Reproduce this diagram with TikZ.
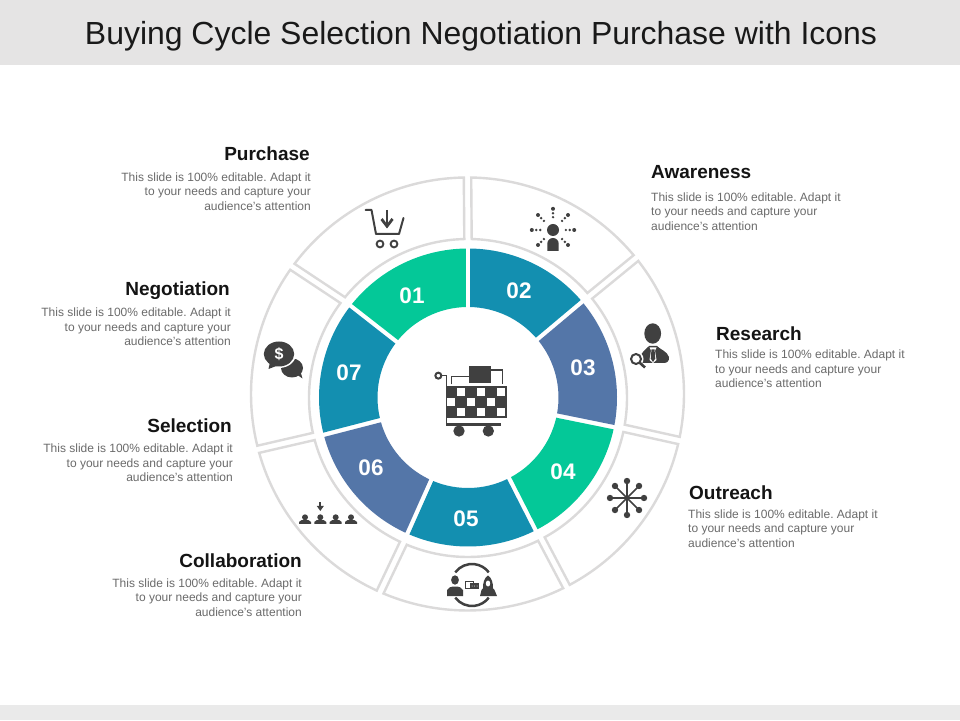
\documentclass[tikz,border=0pt]{standalone}
\usepackage{fontspec}
\setmainfont{Liberation Sans}
\frenchspacing
\definecolor{band}{HTML}{E5E4E4}
\definecolor{bandb}{HTML}{EAEAEA}
\definecolor{ringline}{HTML}{DBDADA}
\definecolor{cgreen}{HTML}{04C898}
\definecolor{cteal}{HTML}{138FB0}
\definecolor{cblue}{HTML}{5476A8}
\definecolor{icon}{HTML}{404040}
\definecolor{bodyc}{HTML}{6B6B6B}
\tikzset{
  headr/.style={anchor=east,inner sep=0pt,font=\fontsize{19}{20}\selectfont\bfseries,text=black!92},
  headl/.style={anchor=west,inner sep=0pt,font=\fontsize{19}{20}\selectfont\bfseries,text=black!92},
  bodyr/.style={anchor=east,align=right,inner sep=0pt,font=\fontsize{12}{14.3}\selectfont,text=bodyc},
  bodyl/.style={anchor=west,align=left,inner sep=0pt,font=\fontsize{12}{14.3}\selectfont,text=bodyc},
  num/.style={text=white,inner sep=0pt,font=\fontsize{22.5}{24}\selectfont\bfseries},
  icol/.style={draw=icon,fill=none,line width=2pt},
  outerseg/.style={draw=ringline,line width=2.4pt,line join=miter},
}
% inner band: #1 style, #2 a1, #3 a2
\newcommand\innersec[3]{%
  \pgfmathsetmacro\dO{asin(2.2/149)}%
  \pgfmathsetmacro\dI{asin(2.2/90.5)}%
  \pgfmathsetmacro\aA{-(#2+\dO)}%
  \pgfmathsetmacro\aB{-(#3-\dO)}%
  \pgfmathsetmacro\aC{-(#3-\dI)}%
  \pgfmathsetmacro\aD{-(#2+\dI)}%
  \path[#1,shift={(468,397.5)}] (\aA:149) arc[start angle=\aA,end angle=\aB,radius=149pt]
    -- (\aC:90.5) arc[start angle=\aC,end angle=\aD,radius=90.5pt] -- cycle;%
}
% outer band: #1 outer a1, #2 outer a2, #3 inner a1, #4 inner a2
\newcommand\outersec[4]{%
  \pgfmathsetmacro\dO{asin(3.7/216.5)}%
  \pgfmathsetmacro\dI{asin(3.7/159)}%
  \pgfmathsetmacro\aA{-(#1+\dO)}%
  \pgfmathsetmacro\aB{-(#2-\dO)}%
  \pgfmathsetmacro\aC{-(#4-\dI)}%
  \pgfmathsetmacro\aD{-(#3+\dI)}%
  \path[outerseg] ([shift={(467.5,394)}]\aA:216.5) arc[start angle=\aA,end angle=\aB,radius=216.5pt]
    -- ([shift={(468,398)}]\aC:159) arc[start angle=\aC,end angle=\aD,radius=159pt] -- cycle;%
}
\newcommand\bodytext{This slide is 100\% editable. Adapt it}
\begin{document}
\begin{tikzpicture}[x=1pt,y=1pt]
\useasboundingbox (0,0) rectangle (960,720);
\fill[white] (0,0) rectangle (960,720);
\begin{scope}[shift={(0,720)},yscale=-1]
\fill[band] (0,0) rectangle (960,65);
\fill[bandb] (0,705) rectangle (960,720);
\node[inner sep=0pt,text=black!90,font=\fontsize{31.95}{34}\selectfont] (title) at (481,36.5) {Buying Cycle Selection Negotiation Purchase with Icons};

% outer ring
\outersec{90}{144}{90}{142}
\outersec{144}{194.8}{142}{194}
\outersec{194.8}{246.2}{194}{246}
\outersec{246.2}{297.2}{246}{297.5}
\outersec{297.2}{347.6}{297.5}{349}
\outersec{347.6}{398.9}{349}{400}
\outersec{38.9}{90}{40}{90}

% inner ring
\innersec{fill=cgreen}{90}{142}
\innersec{fill=cteal}{142}{194.5}
\innersec{fill=cblue}{194.5}{246}
\innersec{fill=cteal}{246}{297}
\innersec{fill=cgreen}{297}{348.5}
\innersec{fill=cblue}{348.5}{400}
\innersec{fill=cteal}{40}{90}

\node[num] (n1) at (412,296) {01};
\node[num] (n2) at (519,291) {02};
\node[num] (n3) at (583,368) {03};
\node[num] (n4) at (563,472) {04};
\node[num] (n5) at (466,519) {05};
\node[num] (n6) at (371,468) {06};
\node[num] (n7) at (349,373) {07};

% texts
\node[headr] (h1) at (310,153.5) {Purchase};
\node[bodyr] (b1) at (311,191.5) {\bodytext\\to your needs and capture your\\audience's attention};
\node[headl] (h2) at (651,172.5) {Awareness};
\node[bodyl] (b2) at (651,211.5) {\bodytext\\to your needs and capture your\\audience's attention};
\node[headr] (h7) at (230,290.5) {Negotiation};
\node[bodyr] (b7) at (231,327) {\bodytext\\to your needs and capture your\\audience's attention};
\node[headl] (h3) at (716,333.5) {Research};
\node[bodyl] (b3) at (715,369) {\bodytext\\to your needs and capture your\\audience's attention};
\node[headr] (h6) at (232,425.5) {Selection};
\node[bodyr] (b6) at (233,463) {\bodytext\\to your needs and capture your\\audience's attention};
\node[headl] (h4) at (689,492.5) {Outreach};
\node[bodyl] (b4) at (688,528.5) {\bodytext\\to your needs and capture your\\audience's attention};
\node[headr] (h5) at (302,560.5) {Collaboration};
\node[bodyr] (b5) at (302,597.5) {\bodytext\\to your needs and capture your\\audience's attention};

% icon: shopping basket (Purchase)
\draw[icol,line join=round,line cap=round] (365.5,210) -- (371.5,210) -- (376,234) -- (399,234) -- (403.5,218);
\draw[icon,line width=1.9pt] (380,244) circle (3.4) (394,244) circle (3.4);
\draw[icon,line width=2.3pt] (387,210) -- (387,224);
\fill[icon] (380.5,220) -- (387,228.5) -- (393.5,220) -- (391.5,218) -- (387,224) -- (382.5,218) -- cycle;

% icon: speech bubbles with dollar (Negotiation)
\fill[icon] (292,368) ellipse (11 and 9.5);
\fill[icon] (296,374) -- (302.5,378.5) -- (300,370) -- cycle;
\fill[white] (279,354) ellipse (17 and 14);
\fill[icon] (279,354) ellipse (15.2 and 12.5);
\fill[icon] (270,362) -- (268.5,369) -- (279,365) -- cycle;
\node[inner sep=0pt,text=white,font=\fontsize{16}{16}\selectfont\bfseries] (dollar) at (279,354) {\$};

% icon: person with rays (Awareness)
\fill[icon] (553,230) circle (6);
\fill[icon] (547.3,251) -- (547.3,243.7) arc[start angle=180,end angle=360,radius=5.7pt] -- (558.7,251) -- cycle;
\foreach \a in {-90,-45,-135,0,180,45,135}{
  \begin{scope}[shift={(553,230)}]
    \fill[icon] (\a:21.2) circle (2);
    \fill[icon] (\a:16.8) circle (1.4);
    \fill[icon] (\a:12.8) circle (1.3);
  \end{scope}
}

% icon: businessman with magnifier (Research)
\fill[icon] (652.7,333.5) ellipse (8.4 and 10.2);
\fill[icon] (641,363) -- (640,358) .. controls (641,352) and (646,349.5) .. (649,346) -- (657,346) .. controls (660,349.5) and (667,351) .. (669,357) .. controls (669.5,361) and (667,363) .. (664,363) -- cycle;
\fill[white] (649.5,347.5) -- (656.5,347.5) -- (655,350.5) -- (656.5,360) -- (653,363) -- (649.5,360) -- (651,350.5) -- cycle;
\fill[icon] (651.5,349.5) -- (654.5,349.5) -- (655.3,358.5) -- (653,362) -- (650.7,358.5) -- cycle;
\fill[white] (636,359) circle (7.5);
\draw[icon,line width=2pt] (636,359) circle (5);
\draw[icon,line width=2.6pt] (639.8,362.8) -- (645,367.5);

% icon: network star (Outreach)
\foreach \a in {0,45,...,315}{
  \draw[icon,line width=1.6pt,shift={(627,498)}] (0,0) -- (\a:17);
  \fill[icon,shift={(627,498)}] (\a:17) circle (3.2);
}

% icon: audience
\foreach \x in {305,320.3,335.7,351}{
  \fill[icon] (\x,517.3) circle (3);
  \fill[icon] (\x-6,523.8) -- (\x-6,522) .. controls (\x-5,520.3) and (\x-3,519.8) .. (\x,519.8) .. controls (\x+3,519.8) and (\x+5,520.3) .. (\x+6,522) -- (\x+6,523.8) -- cycle;
}
\fill[icon] (319.2,502) rectangle (321.4,507);
\fill[icon] (316.8,506) -- (320.3,511) -- (323.8,506) -- cycle;

% icon: two people and chat (Collaboration 05)
\draw[icon,line width=2.5pt] (-143:21) ++(472,585) arc[start angle=-143,end angle=-37,radius=21pt];
\draw[icon,line width=2.5pt] (143:21) ++(472,585) arc[start angle=143,end angle=37,radius=21pt];
\fill[icon] (455,580) ellipse (3.9 and 4.7);
\fill[icon] (447,596) -- (447,590) .. controls (448,587.5) and (451,586.5) .. (455,586.5) .. controls (459,586.5) and (462,587.5) .. (463,590) -- (463,596) -- cycle;
\fill[icon] (488,575.5) .. controls (484,578) and (483,583) .. (483,588) -- (493,588) .. controls (493,583) and (492,578) .. (488,575.5) -- cycle;
\fill[icon] (480,596) -- (481.5,590) .. controls (483,587) and (485,586.5) .. (488,586.5) .. controls (491,586.5) and (493,587) .. (494.5,590) -- (497,596) -- cycle;
\fill[white] (488,583.5) ellipse (2.2 and 3);
\draw[icon,line width=.6pt,fill=white] (465,581) rectangle (473,588);
\fill[icon] (470,583.3) rectangle (479,589);
\fill[white] (472,586) circle (.5) (474.5,586) circle (.5) (477,586) circle (.5);

% icon: centre trolley
\begin{scope}[shift={(420,355)},x=0.3333pt,y=0.3333pt]
  \fill[icon] (147,33) rectangle (213,83);
  \draw[icon,line width=1.5pt] (95,88) -- (95,65) -- (147,65);
  \draw[icon,line width=1.5pt] (213,45) -- (247,45) -- (247,88);
  \fill[icon] (78,93) rectangle (261,188);
  \fill[icon] (78,188) rectangle (82,212);
  \fill[icon] (78,205) rectangle (242,212);
  \foreach \x/\y in {112/100,172/100,232/100,82/130,142/130,202/130,112/160,172/160,232/160}{
    \fill[white] (\x,\y) rectangle ++(24,22);
  }
  \draw[icon,line width=1.3pt] (65,62) -- (80,62) -- (80,93);
  \draw[icon,line width=2pt] (55,62) circle (9);
  \fill[icon] (117,228) circle (17);
  \fill[icon] (205,228) circle (17);
\end{scope}
\end{scope}
\end{tikzpicture}
\end{document}
